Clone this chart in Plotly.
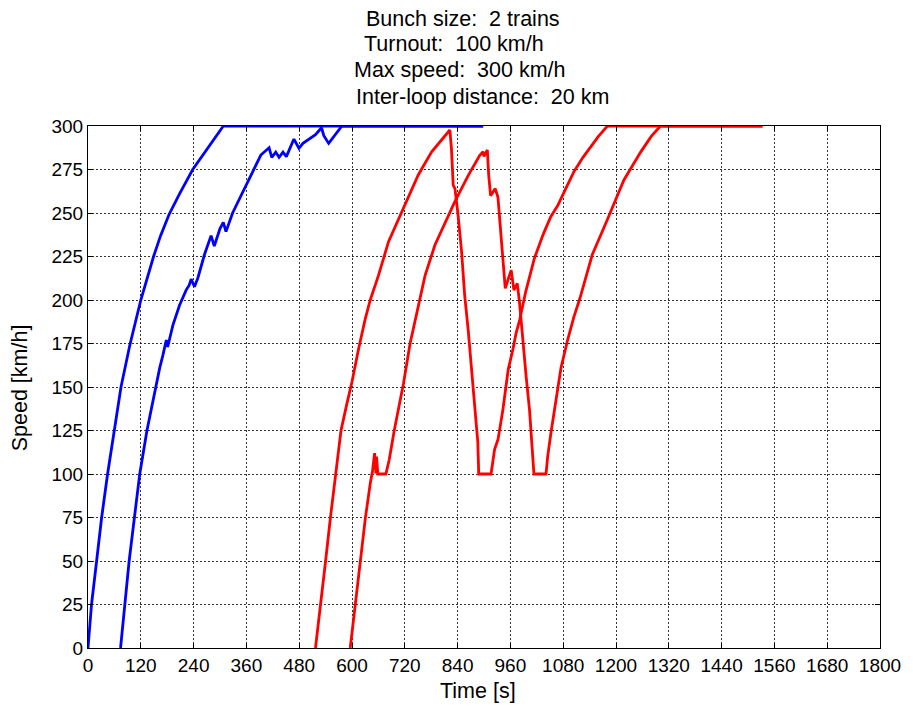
import plotly.graph_objects as go

# Speed profiles of the trains in the bunch (time in s, speed in km/h)
blue1_t = [0, 8, 19.6, 31, 44.5, 59.6, 75, 95, 120, 149, 165, 184, 208, 238, 268, 291, 307.6, 898]
blue1_v = [0, 25, 50, 75, 100, 125, 150, 174, 200, 225, 237, 249, 261, 275, 286, 294, 300, 300]

blue2_t = [74, 83.7, 93.5, 105.5, 117.6, 134, 153, 163, 170, 178, 181, 186, 193, 208, 223, 230,
           234.5, 242, 249.5, 264.6, 279.7, 287, 300, 307.5, 313.6, 328.6, 358.9, 373.9, 392.8,
           411.6, 417.6, 426.7, 434.2, 443.2, 450.8, 468, 479.4, 488.5, 502, 517, 530.7, 536,
           547, 577, 898]
blue2_v = [0, 25, 50, 75, 100, 125, 150, 161, 168, 177, 173, 179, 185.6, 197, 205.7, 208.5,
           212, 207.6, 212.5, 226, 237, 231, 241, 244.6, 239.3, 250, 266, 274, 283.3,
           287.5, 282, 285, 282, 285, 282.4, 292.5, 287.2, 290, 292.5, 295, 299, 294.4,
           290, 300, 300]

red1_t = [517, 528.5, 540, 551, 562.4, 575, 588, 600, 615, 630, 641.5, 660, 683, 713, 750.8, 781,
          822.4, 826, 830, 834, 841, 849, 856, 864, 870, 880, 886, 888, 916, 924, 932, 943, 955,
          966, 973, 981, 995, 1014.6, 1035, 1052, 1067, 1082, 1105, 1125, 1142.7, 1160,
          1180.5, 1533]
red1_v = [0, 24, 50, 75, 100, 125, 140, 153, 172, 189, 200, 214, 233.5, 251, 272, 285.2,
          297.7, 287, 266, 264, 249, 228, 203, 183, 166, 138, 118, 100, 100, 114, 120, 137, 160,
          172, 181, 188.5, 205, 224, 238, 248, 254, 262, 274, 282, 288, 294,
          300, 300]

red2_t = [596, 607.6, 619, 630.3, 641.5, 646.8, 651.3, 654.3, 655.8, 658.8, 677, 684.5, 696,
          717, 732, 749, 766, 788.5, 811, 833.7, 864, 890, 897.8, 900, 907.6, 910.6, 915, 925.6,
          931.7, 935.5, 943, 948.3, 955, 961.8, 968, 975.5, 980.6, 988, 995.8, 1003.4, 1007,
          1011, 1013.5, 1041, 1044.7, 1052, 1063.5, 1075, 1090, 1104, 1118, 1146, 1180, 1218,
          1256, 1280, 1301, 1533]
red2_v = [0, 25, 50, 74.5, 94.6, 102, 112, 100.4, 110, 100, 100, 108, 125,
          152, 175, 195, 214, 231.6, 244, 256.5, 271.5, 283, 285.2, 282.5, 286.2, 272, 260, 264,
          259, 247, 226, 206.7, 212, 217.2, 205.7, 209.6, 199, 176, 156, 137, 123.4,
          112, 100, 100, 110, 123.4, 142.5, 161, 177, 190, 201, 226, 246, 269,
          285, 294, 300, 300]

title_lines = ["Bunch size:\u00a0 2 trains",
               "Turnout:\u00a0 100 km/h",
               "Max speed:\u00a0 300 km/h",
               "Inter-loop distance:\u00a0 20 km"]
title_x = [0.4735, 0.4621, 0.4693, 0.4987]
title_y = [1.2050, 1.1571, 1.1073, 1.0556]

x_ticks = list(range(0, 1801, 120))
y_ticks = list(range(0, 301, 25))

FONT = "Liberation Sans, Arial, sans-serif"

fig = go.Figure()
for t, v, c in [(blue1_t, blue1_v, "#0000ff"), (blue2_t, blue2_v, "#0000ff"),
                (red1_t, red1_v, "#ff0000"), (red2_t, red2_v, "#ff0000")]:
    fig.add_trace(go.Scatter(x=t, y=v, mode="lines",
                             line=dict(color=c, width=2.8), showlegend=False,
                             hoverinfo="skip"))

axis_common = dict(
    showline=True, linecolor="black", linewidth=1, mirror="ticks",
    ticks="inside", ticklen=5, tickwidth=1, tickcolor="black",
    showgrid=True, gridcolor="rgba(0,0,0,0.8)", gridwidth=1, griddash="2px,2px",
    zeroline=False, tickfont=dict(family=FONT, size=19, color="black"),
)

fig.update_xaxes(range=[0, 1800], tickvals=x_ticks, ticktext=[str(v) for v in x_ticks],
                 **axis_common)
fig.update_yaxes(range=[0, 300], tickvals=y_ticks, ticktext=[str(v) for v in y_ticks],
                 **axis_common)

annotations = []
for txt, x, y in zip(title_lines, title_x, title_y):
    annotations.append(dict(text=txt, x=x, y=y, xref="paper", yref="paper",
                            xanchor="center", yanchor="middle", showarrow=False,
                            font=dict(family=FONT, size=21.5, color="black")))
annotations.append(dict(text="Time [s]", x=0.4925, y=-0.0824, xref="paper", yref="paper",
                        xanchor="center", yanchor="middle", showarrow=False,
                        font=dict(family=FONT, size=21.5, color="black")))
annotations.append(dict(text="Speed [km/h]", x=-0.0855, y=0.498, xref="paper", yref="paper",
                        xanchor="center", yanchor="middle", showarrow=False, textangle=-90,
                        font=dict(family=FONT, size=21.5, color="black")))

fig.update_layout(
    width=913, height=711,
    margin=dict(l=88, r=28, t=126, b=63, pad=0),
    paper_bgcolor="white", plot_bgcolor="white",
    annotations=annotations,
)

fig.write_html("out.html")
